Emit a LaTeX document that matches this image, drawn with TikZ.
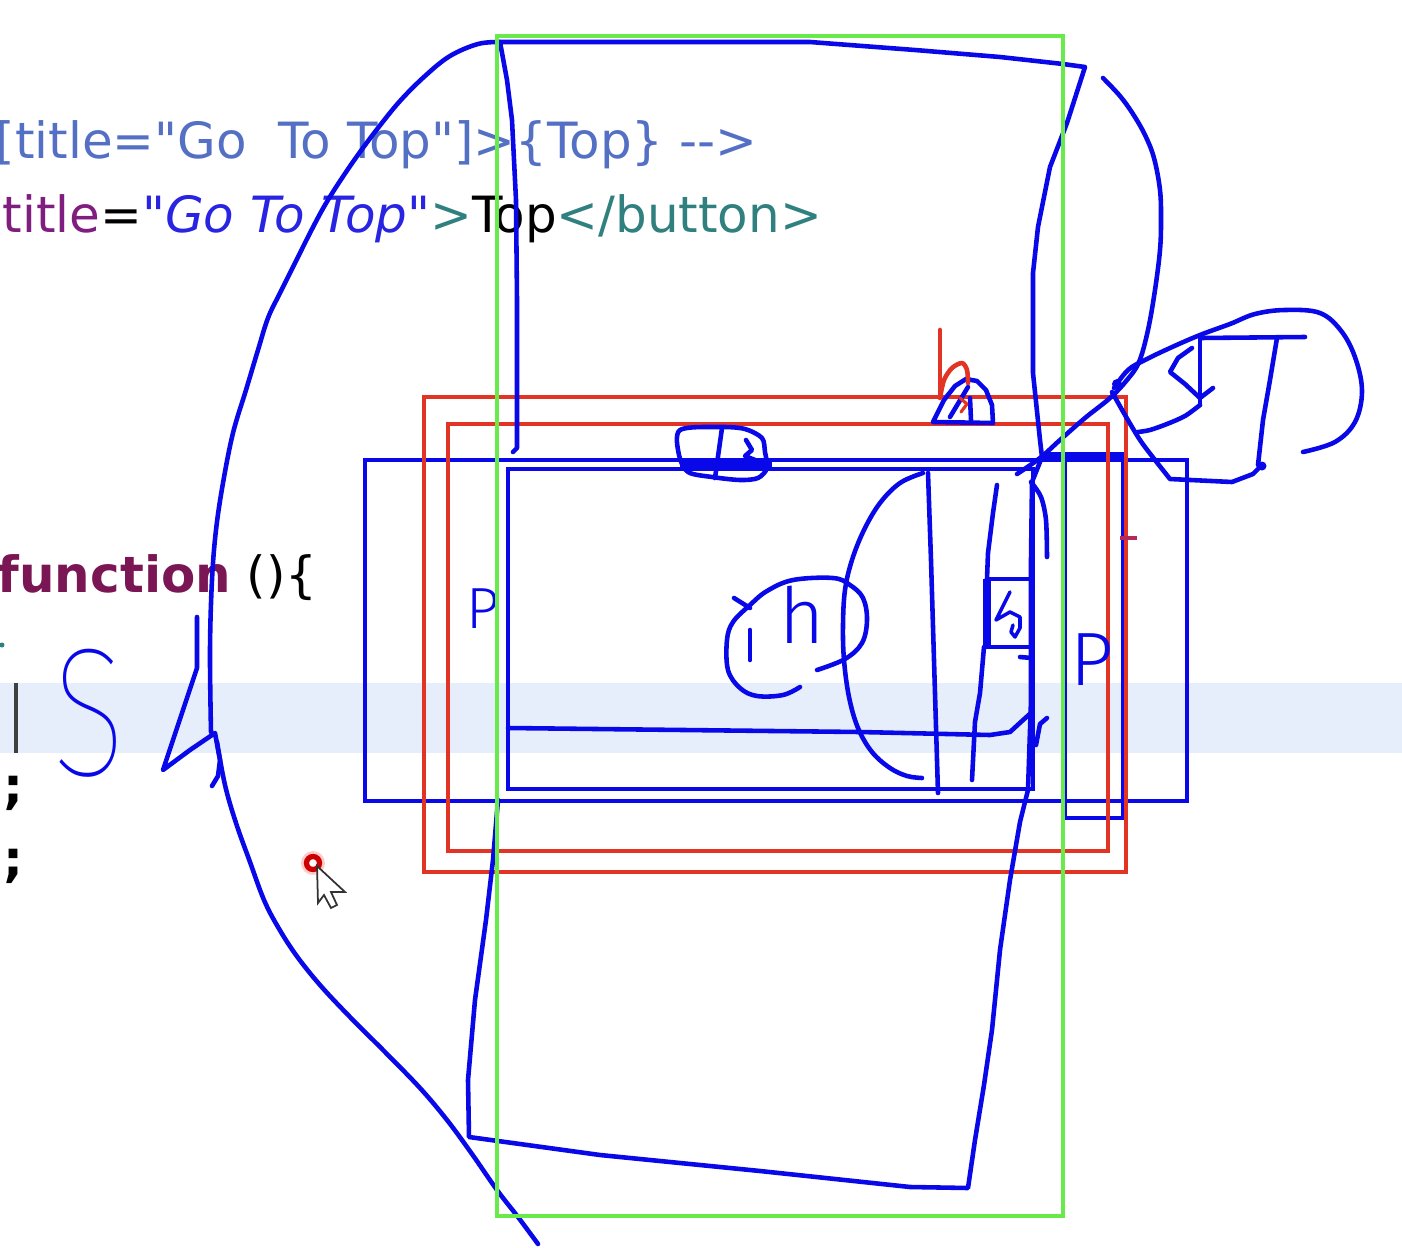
\documentclass[tikz,border=0pt]{standalone}
\usepackage{fontspec}
\setmainfont{DejaVu Sans}
\newfontfamily\codefont{DejaVu Sans}[Ligatures=TeXOff]
\IfFontExistsTF{Fira Sans Light}{\newfontfamily\handfont{Fira Sans Light}}{\newfontfamily\handfont{DejaVu Sans}}
\IfFontExistsTF{Fira Sans Thin}{\newfontfamily\handthin{Fira Sans Thin}}{\let\handthin\handfont}
\usetikzlibrary{calc}
\definecolor{penblue}{RGB}{8,8,232}
\definecolor{boxred}{RGB}{226,52,36}
\definecolor{boxgreen}{RGB}{104,234,74}
\definecolor{linehl}{RGB}{230,237,251}
\definecolor{cmtblue}{RGB}{84,112,196}
\definecolor{attrpurple}{RGB}{127,30,127}
\definecolor{strblue}{RGB}{40,36,226}
\definecolor{tagteal}{RGB}{48,128,128}
\definecolor{kwmaroon}{RGB}{122,22,84}
\definecolor{tickred}{RGB}{180,40,90}
\tikzset{
  code/.style={anchor=base west,inner sep=0pt,font=\codefont\fontsize{14.2}{16}\selectfont},
  hand/.style={anchor=base,inner sep=0pt,text=penblue},
  pen/.style={draw=penblue,line width=1.3pt,line join=round,line cap=round},
  redpen/.style={draw=boxred,line width=1.3pt,line join=round,line cap=round},
  bluebox/.style={draw=penblue,line width=1.3pt},
  redbox/.style={draw=boxred,line width=1.3pt},
  greenbox/.style={draw=boxgreen,line width=1.4pt}
}
\begin{document}
\begin{tikzpicture}[x=0.01cm,y=-0.01cm]
\useasboundingbox (0,0) rectangle (1402,1248);
\clip (0,0) rectangle (1402,1248);
\fill[white] (0,0) rectangle (1402,1248);
\fill[linehl] (0,683) rectangle (1402,753);

% editor lines
\node[code,text=cmtblue] (cmt) at (-5,158) {[title="Go\ \ To Top"]>\{Top\} -->};
\node[code] (btn) at (2,232) {\textcolor{attrpurple}{title}=\textcolor{strblue}{\itshape"Go To Top"}\textcolor{tagteal}{>}Top\textcolor{tagteal}{</button>}};
\node[code] (fn) at (-3,592) {\textcolor{kwmaroon}{\bfseries function} ()\{};
\node[code] (semia) at (3,803) {\bfseries;};
\node[code] (semib) at (3,876) {\bfseries;};
\fill[tagteal] (2,645) circle (2.5);
\draw[black!75,line width=1.1pt] (16,683) -- (16,753);

% boxes
\draw[bluebox] (365,460) rectangle (1187,801);
\draw[bluebox] (508,469) rectangle (1033,789);
\draw[bluebox] (1065,456) rectangle (1123,818);
\draw[bluebox] (987,579) rectangle (1031,647);
\draw[penblue,line width=2.2pt] (1043,456) -- (1127,456);
\draw[penblue,line width=2pt] (987,579) -- (987,647);
\draw[redbox] (424,397) rectangle (1126,872);
\draw[redbox] (448,424) rectangle (1108,851);

% phone outline
\draw[pen] (513,452) -- (517,448) -- (517,300) -- (516,200) -- (512,120) -- (507,80) -- (500,42) -- (810,42) -- (915,50) -- (1000,57) -- (1063,64) -- (1085,67)
  -- (1067,123) -- (1050,167) -- (1038,227) -- (1033,273) -- (1033,373) -- (1040,440) -- (1042,457) -- (1032,482) -- (1031,560) -- (1031,700) -- (1028,790)
  -- (1020,822) -- (1010,880) -- (1000,950) -- (992,1030) -- (984,1085) -- (975,1140) -- (968,1188) -- (910,1187) -- (760,1171) -- (600,1155) -- (469,1137)
  -- (468,1080) -- (475,1000) -- (486,920) -- (493,860) -- (498,800);

% head
\draw[pen] plot[smooth,tension=0.6] coordinates {(500,42) (478,44) (450,56) (425,76) (400,101) (378,128) (360,152) (342,178) (325,205) (310,233) (295,263) (280,293) (268,318) (258,350) (246,390) (233,433) (223,483) (216,530) (212,580) (210,650) (211,732)};
\draw[pen] (197,617) -- (197,668) -- (163,770) -- (190,750) -- (215,733) -- (220,760) -- (218,776) -- (212,786);
\draw[pen] plot[smooth,tension=0.6] coordinates {(217,742) (225,785) (236,823) (250,862) (264,900) (278,927) (296,955) (320,985) (350,1017) (385,1052) (420,1088) (447,1120) (472,1154) (497,1190) (518,1217) (538,1244)};
\draw[pen] plot[smooth,tension=0.6] coordinates {(1103,78) (1120,96) (1133,114) (1145,135) (1154,158) (1160,190) (1161,220) (1160,250) (1155,290) (1148,330) (1139,362) (1127,380) (1110,398) (1085,418) (1060,440) (1040,458) (1017,474)};

% ST
\draw[pen] plot[smooth,tension=0.6] coordinates {(1114,388) (1128,370) (1145,360) (1170,348) (1200,335) (1230,324) (1255,314) (1285,310) (1320,313) (1342,332) (1356,360) (1362,392) (1355,422) (1335,442) (1303,452)};
\draw[pen] plot[smooth,tension=0.5] coordinates {(1112,392) (1125,415) (1140,440) (1155,460) (1170,479)} -- (1232,482) -- (1253,474) -- (1262,465);
\fill[penblue] (1117,384) circle (5);
\draw[pen] (1200,338) -- (1305,337);
\draw[pen] (1277,338) -- (1270,380) -- (1263,420) -- (1258,465);
\fill[penblue] (1262,466) circle (4.5);
\draw[pen] (1200,338) -- (1200,405);
\draw[pen] (1192,348) -- (1178,358) -- (1170,372) -- (1185,384) -- (1200,398) -- (1213,388);
\draw[pen] plot[smooth] coordinates {(1200,405) (1185,416) (1167,424) (1150,430) (1138,432)};

% face
\draw[pen] plot[smooth,tension=0.6] coordinates {(923,473) (900,483) (880,503) (864,530) (852,560) (845,590) (843,625) (844,660) (849,697) (858,728) (872,752) (890,768) (907,776) (922,778)};
\draw[pen] (928,473) -- (931,560) -- (934,660) -- (938,793);
\draw[pen] (997,485) -- (993,513) -- (988,553) -- (987,579);
\draw[pen] (984,647) -- (980,693) -- (975,722) -- (972,780);
\draw[pen] plot[smooth] coordinates {(1031,482) (1041,497) (1046,520) (1047,557)};
\draw[pen] (508,728) -- (860,732) -- (990,735) -- (1010,732) -- (1022,721) -- (1032,712);
\draw[pen] plot[smooth,tension=0.6] coordinates {(800,687) (783,695) (757,696) (740,688) (728,670) (727,640) (733,622) (750,605) (767,591) (793,580) (833,578) (850,585) (863,598) (867,620) (862,643) (845,659) (817,670)};
\draw[pen] (734,598) -- (750,608);
\draw[pen] (750,630) -- (750,660);
\draw[pen,line width=1pt] (1010,592) -- (996,620) -- (1010,612) -- (1020,617) -- (1020,628) -- (1015,637) -- (1011,632) -- (1013,625);
\draw[pen] (1020,657) -- (1032,658);
\draw[pen] (1047,718) -- (1040,724) -- (1036,745);

% cloud and dome on the top edges
\draw[pen] plot[smooth cycle,tension=0.5] coordinates {(680,430) (720,427) (745,429) (762,438) (765,452) (767,468) (758,478) (740,480) (712,477) (688,472) (679,455)};
\draw[pen] (722,428) -- (715,478);
\draw[pen] (746,440) -- (752,450) -- (745,456) -- (760,462);
\draw[penblue,line width=2.2pt] (680,463) -- (772,463);
\draw[pen] (933,422) -- (993,423) -- (992,405) -- (986,390) -- (977,381) -- (966,379) -- (955,386) -- (944,400) -- cycle;
\draw[pen] (950,417) -- (968,387);
\draw[pen] (970,398) -- (971,420);
\draw[redpen] (940,330) -- (940,396);
\draw[redpen] plot[smooth] coordinates {(940,398) (944,380) (952,368) (962,363) (967,370) (968,383)};
\draw[redpen,line width=0.9pt] (960,398) -- (967,404) -- (961,412);
\draw[tickred,line width=1.1pt] (1120,538) -- (1137,538);

% letters
\node[hand,font=\handfont\fontsize{16.5}{16.5}\selectfont] (pleft) at (483,628) {P};
\node[hand,font=\handfont\fontsize{21.5}{21.5}\selectfont] (pright) at (1092,685) {P};
\node[hand,font=\handthin\fontsize{52}{52}\selectfont] (sleft) at (89,775) {\scalebox{0.75}[1]{S}};
\node[hand,font=\handfont\fontsize{22}{22}\selectfont] (hmark) at (802,643) {h};

\draw[greenbox] (497,36) rectangle (1063,1216);

% mouse pointer
\fill[red!20] (313,863) circle (12);
\draw[red!80!black,line width=1.5pt,fill=white] (313,863) circle (6.5);
\draw[black!80,line width=0.5pt,fill=white] (317,866) -- (318,903) -- (324,895) -- (331,908) -- (337,905) -- (331,892) -- (345,892) -- cycle;
\end{tikzpicture}
\end{document}
